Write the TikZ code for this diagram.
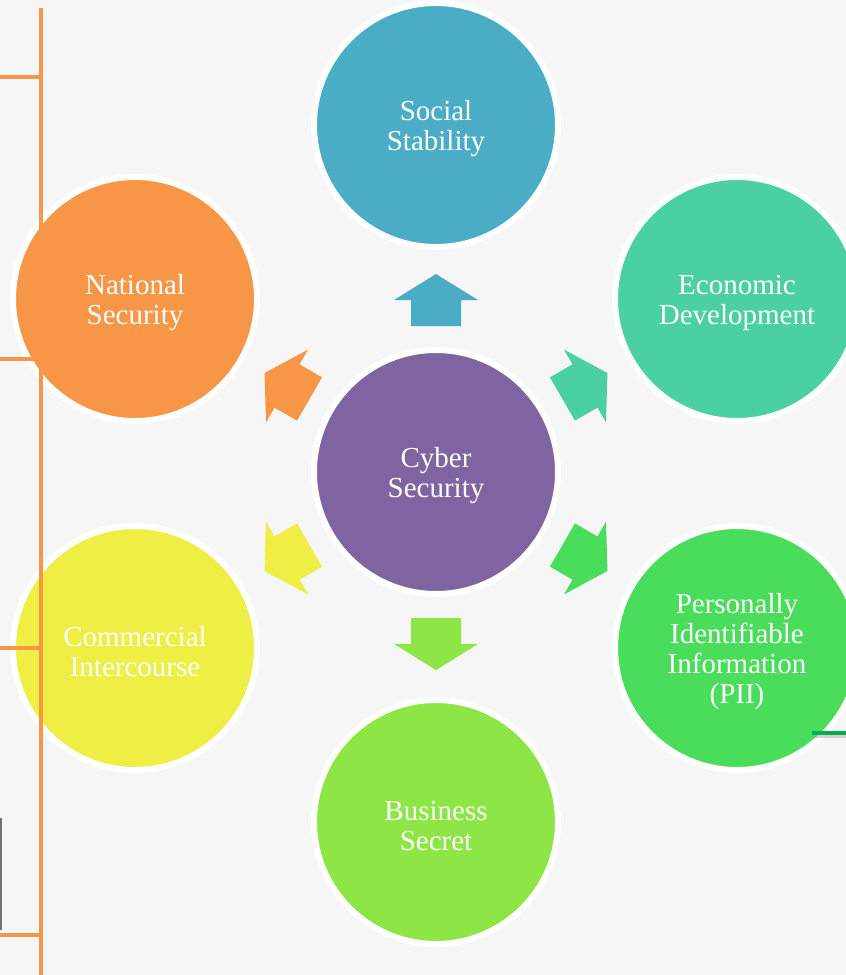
\documentclass[tikz,border=0pt]{standalone}
\usepackage{fontspec}
\setmainfont{Liberation Serif}
\definecolor{bg}{HTML}{F6F6F6}
\definecolor{cSoc}{HTML}{4BACC6}
\definecolor{cEco}{HTML}{4BD0A3}
\definecolor{cPii}{HTML}{4ADD5C}
\definecolor{cBiz}{HTML}{8EE646}
\definecolor{cCom}{HTML}{EEEE44}
\definecolor{cNat}{HTML}{F79646}
\definecolor{cCyb}{HTML}{8064A2}
\definecolor{cLine}{HTML}{F79646}
\definecolor{cGrn}{HTML}{00B050}
\newcommand\hexarrow[2]{%
  \fill[#2, shift={(436,472)}, rotate=#1]
    (146,25) -- (172,25) -- (172,42) -- (198,0) -- (172,-42) -- (172,-25) -- (146,-25) -- cycle;}
\tikzset{
  bub/.style={circle, minimum size=244pt, inner sep=0pt, draw=white, line width=6pt},
  lbl/.style={text=white, align=center, inner sep=0pt, font=\fontsize{29}{30}\selectfont, yshift=-4pt},
  orline/.style={draw=cLine, line width=4pt},
  orshadow/.style={draw=black!45, opacity=0.35, line width=4pt},
}
\begin{document}
\begin{tikzpicture}[x=1pt,y=-1pt]
\useasboundingbox (0,0) rectangle (846,975);
\fill[bg] (0,0) rectangle (846,975);
% circles
\node[bub, fill=cSoc] (soc) at (436,125) {};
\node[bub, fill=cEco] (eco) at (737,299) {};
\node[bub, fill=cPii] (pii) at (737,648) {};
\node[bub, fill=cBiz] (biz) at (436,822) {};
\node[bub, fill=cCom] (com) at (135,648) {};
\node[bub, fill=cNat] (nat) at (135,299) {};
\node[bub, fill=cCyb] (cyb) at (436,472) {};
% labels
\node[lbl] (socT) at (soc.center) {Social\\Stability};
\node[lbl] (ecoT) at (eco.center) {Economic\\Development};
\node[lbl] (piiT) at (pii.center) {Personally\\Identifiable\\Information\\(PII)};
\node[lbl] (bizT) at (biz.center) {Business\\Secret};
\node[lbl] (comT) at (com.center) {Commercial\\Intercourse};
\node[lbl] (natT) at (nat.center) {National\\Security};
\node[lbl] (cybT) at (cyb.center) {Cyber\\Security};
% arrows
\hexarrow{90}{cSoc}
\hexarrow{30}{cEco}
\hexarrow{-30}{cPii}
\hexarrow{-90}{cBiz}
\hexarrow{-150}{cCom}
\hexarrow{150}{cNat}
% orange ladder lines
\coordinate (vt) at (41,8);
\coordinate (vb) at (41,975);
\coordinate (h1a) at (0,77);   \coordinate (h1b) at (43,77);
\coordinate (h2a) at (0,359);  \coordinate (h2b) at (43,359);
\coordinate (h3a) at (39,320); \coordinate (h3b) at (83,320);
\coordinate (h4a) at (0,648);  \coordinate (h4b) at (43,648);
\coordinate (h5a) at (0,935);  \coordinate (h5b) at (43,935);
\begin{scope}[shift={(2.5,2.5)}]
\draw[orshadow] (vt) -- (vb);
\draw[orshadow] (h1a) -- (h1b);
\draw[orshadow] (h2a) -- (h2b);
\draw[orshadow] (h3a) -- (h3b);
\draw[orshadow] (h4a) -- (h4b);
\draw[orshadow] (h5a) -- (h5b);
\end{scope}
\draw[orline] (vt) -- (vb);
\draw[orline] (h1a) -- (h1b);
\draw[orline] (h2a) -- (h2b);
\draw[orline] (h3a) -- (h3b);
\draw[orline] (h4a) -- (h4b);
\draw[orline] (h5a) -- (h5b);
% green line
\coordinate (g1) at (812,733);
\coordinate (g2) at (846,733);
\draw[draw=black!45, opacity=0.35, line width=4pt] ([shift={(2,2.5)}]g1) -- ([shift={(2,2.5)}]g2);
\draw[draw=cGrn, line width=4pt] (g1) -- (g2);
% grey edge line
\coordinate (k1) at (0.8,818);
\coordinate (k2) at (0.8,930);
\draw[draw=black!55, line width=1.6pt] (k1) -- (k2);
\end{tikzpicture}
\end{document}
